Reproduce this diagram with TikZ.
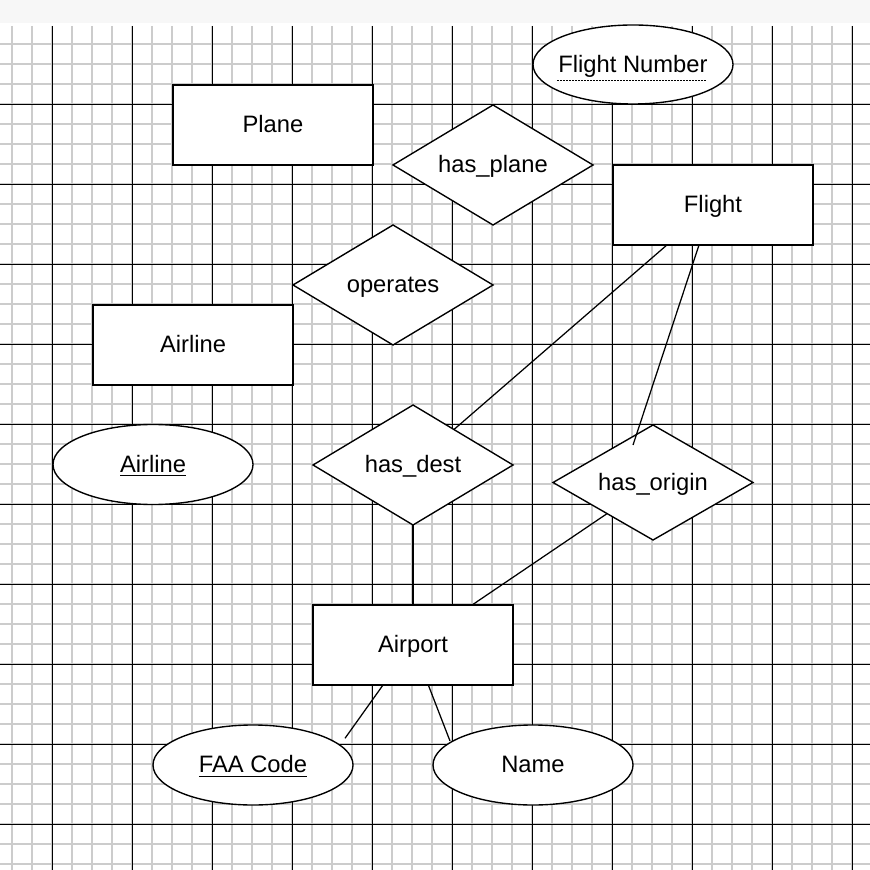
\documentclass[tikz,border=0pt]{standalone}
\usepackage{fontspec}
\setmainfont{Liberation Sans}
\usepackage{tikz}
\usetikzlibrary{shapes.geometric}
\colorlet{minor}{black!20}
\tikzset{
	entity/.style={rectangle,draw=black,fill=white,line width=0.65pt,inner sep=0pt,outer sep=0pt,minimum width=80pt,minimum height=32pt},
	relation/.style={diamond,draw=black,fill=white,line width=0.55pt,inner sep=0pt,outer sep=0pt,aspect=1.67,minimum width=80pt,minimum height=48pt},
	attr/.style={ellipse,draw=black,fill=white,line width=0.55pt,inner xsep=-3pt,inner ysep=0pt,outer sep=0pt,minimum width=80pt,minimum height=32pt},
	link/.style={line width=0.5pt,black},
	partkey/.style={line width=0.6pt,dash pattern=on 0.6pt off 0.6pt},
	gridminor/.style={line width=0.5pt,minor},
	gridmajor/.style={line width=0.35pt,black},
	}

\begin{document}
\begin{tikzpicture}[x=0.4pt,y=-0.4pt,font=\fontsize{9.5}{11}\selectfont,text height=6.6pt,text depth=0.4pt]
 \useasboundingbox (0,0) rectangle (870,870);
 \fill[white] (0,0) rectangle (870,870);
 \fill[black!3] (0,0) rectangle (870,23);
 \foreach \x in {12,32,...,852}
  \draw[gridminor] (\x,26) -- (\x,870);
 \foreach \y in {44,64,...,864}
  \draw[gridminor] (0,\y) -- (870,\y);
 \foreach \x in {52,132,...,852}
  \draw[gridmajor] (\x,26) -- (\x,870);
 \foreach \y in {104,184,...,824}
  \draw[gridmajor] (0,\y) -- (870,\y);

\node (plane) at (273,125) [entity] {Plane};
\node (hasplane) at (493,165) [relation] {has\_plane};
\node (fnum) at (633,64.5) [attr,minimum height=31.6pt] {Flight Number};
\node (flight) at (713,205) [entity] {Flight};
\node (operates) at (393,285) [relation] {operates};
\node (airline) at (193,345) [entity] {Airline};
\node (airlinekey) at (153,464.5) [attr] {\underline{Airline}};
\node (hasdest) at (413,465) [relation] {has\_dest};
\node (hasorigin) at (653,482.5) [relation,minimum height=46pt] {has\_origin};
\node (airport) at (413,645) [entity] {Airport};
\node (faa) at (253,765) [attr] {\underline{FAA Code}};
\node (name) at (533,765) [attr] {Name};

 \draw[partkey] ([shift={(-76,16)}]fnum.center) -- ([shift={(74,16)}]fnum.center);

 \draw[link] (flight) -- (hasdest);
 \draw[link] ([shift={(-14,0)}]flight.south) -- ([shift={(-20,-37.5)}]hasorigin.center);
 \draw[link] (hasdest) -- (airport);
 \draw[link] (hasorigin) -- (airport);
 \draw[link] ([shift={(-30,0)}]airport.south) -- ([shift={(92,-26.7)}]faa.center);
 \draw[link] ([shift={(15.3,0)}]airport.south) -- ([shift={(-83,-24)}]name.center);
\end{tikzpicture}
\end{document}
